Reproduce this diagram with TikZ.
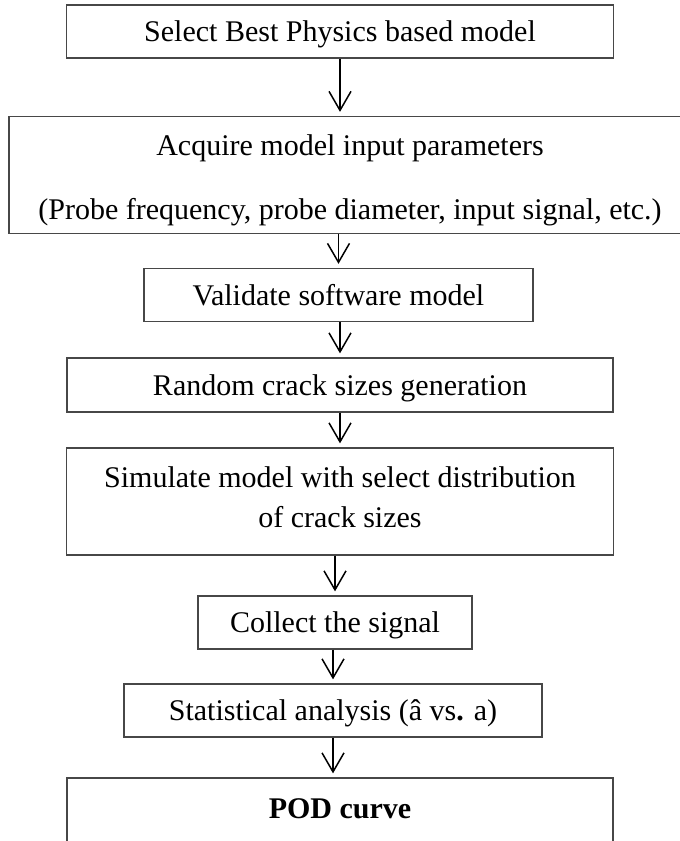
\documentclass[tikz,border=0pt]{standalone}
\usepackage{fontspec}
\setmainfont{Liberation Serif}
\usetikzlibrary{arrows.meta}

\begin{document}
\begin{tikzpicture}[x=1pt,y=-1pt,
   every node/.style={font=\fontsize{30}{36}\selectfont},
   box/.style={draw=black!72,line width=1.3pt,inner sep=0pt,align=center,
      minimum height=53pt,text height=20pt,text depth=0pt},
   twoline/.style={box,text height=,text depth=},
   flow/.style={-{Straight Barb[length=19pt,width=22pt]},line width=1.5pt,shorten >=4pt}]
\useasboundingbox (0,0) rectangle (680,841);
\node[box,minimum width=547pt] (select) at (340,31.5) {Select Best Physics based model};
\node[twoline,minimum width=682pt,minimum height=117pt] (acquire) at (350,175)
   {\rule{0pt}{31pt}Acquire model input parameters\\[28pt](Probe frequency, probe diameter, input signal, etc.)};
\node[box,minimum width=389pt] (validate) at (338.5,295) {Validate software model};
\node[box,minimum width=546pt,minimum height=54pt] (random) at (340,385) {Random crack sizes generation};
\node[twoline,minimum width=547pt,minimum height=107pt] (simulate) at (340,501.5)
   {Simulate model with select distribution\\[4pt]of crack sizes\rule[-8pt]{0pt}{8pt}};
\node[box,minimum width=274pt] (collect) at (335,622.5) {Collect the signal};
\node[box,minimum width=418pt] (stat) at (333,710.5) {Statistical analysis (â vs\textbf{.} a)};
\node[box,minimum width=546pt,minimum height=66pt,text depth=6pt] (pod) at (340,811) {\textbf{POD curve}};
\draw[flow] (select.south) -- (select.south |- acquire.north);
\draw[flow] (validate.north |- acquire.south) -- (validate.north);
\draw[flow] (random.north |- validate.south) -- (random.north);
\draw[flow] (random.south) -- (simulate.north);
\draw[flow] (collect.north |- simulate.south) -- (collect.north);
\draw[flow] (stat.north |- collect.south) -- (stat.north);
\draw[flow] (stat.south) -- (stat.south |- pod.north);
\end{tikzpicture}
\end{document}
